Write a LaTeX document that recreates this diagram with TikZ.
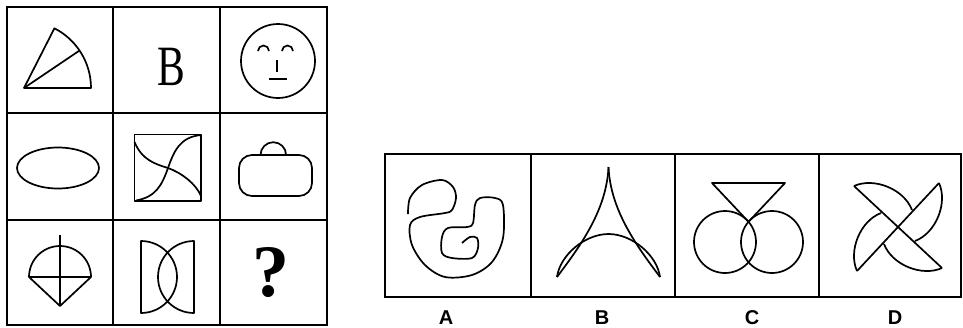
\documentclass[tikz,border=0pt]{standalone}
\usepackage{fontspec}
\usepackage{graphicx}
\newfontfamily\glyphfont{Liberation Serif}
\newfontfamily\tagfont{Liberation Sans}
\usepackage{tikz}

\begin{document}
\begin{tikzpicture}[
    x=1pt, y=-1pt,
    fig/.style={line width=1.7pt, line join=round},
    grid/.style={line width=2pt},
    panel/.style={line width=2.4pt},
    tag/.style={font=\tagfont\bfseries\fontsize{20}{20}\selectfont, inner sep=0pt}
]
\useasboundingbox (0,0) rectangle (963,327);

% question grid
\draw[grid] (7,7) rectangle (327,325);
\foreach \p in {113,220} {
  \draw[grid] (\p,7) -- (\p,325);
  \draw[grid] (7,\p) -- (327,\p);
}

% row 1
\draw[fig] (24,88) -- (91,88) arc[start angle=0, end angle=-63, radius=67] -- cycle;
\draw[fig] (24,88) -- ++(-34:67);
\node[font=\glyphfont\fontsize{57}{57}\selectfont, inner sep=0pt] (letterB) at (171.5,67) {\scalebox{0.73}[1]{B}};
\coordinate (face) at (278,61);
\draw[fig] (face) circle[radius=37];
\draw[fig] (258,51) arc[start angle=180, end angle=360, radius=5.5];
\draw[fig] (282,51) arc[start angle=180, end angle=360, radius=5.5];
\draw[fig] (277,60) -- (277,72);
\draw[fig] (269,79) -- (287,79);

% row 2
\draw[fig] (58,168) ellipse[x radius=41, y radius=20.5];
\draw[fig] (134.5,134.5) rectangle (201,201);
\draw[fig] (134.5,142) .. controls (142,160) and (155,164) .. (168,168)
  .. controls (182,173) and (196,184) .. (201,196);
\draw[fig] (136,200.5) .. controls (156,197) and (162,185) .. (168,168)
  .. controls (174,151) and (180,137) .. (201,135);
\draw[fig, rounded corners=13] (239,155) rectangle (312,196);
\draw[fig] (260.5,155) arc[start angle=180, end angle=360, radius=12.8];

% row 3
\draw[fig] (29,277) arc[start angle=180, end angle=360, radius=31] -- (60,306) -- cycle;
\draw[fig] (29,277) -- (91,277);
\draw[fig] (60,235) -- (60,306);
\draw[fig] (141,241) -- (141,313) arc[start angle=90, end angle=-90, x radius=36, y radius=36] -- cycle;
\draw[fig] (194,241) -- (194,313) arc[start angle=90, end angle=270, x radius=36, y radius=36] -- cycle;
\node[font=\glyphfont\bfseries\fontsize{74}{74}\selectfont, inner sep=0pt] (query) at (271,273) {?};

% answer panel
\draw[panel] (385,154) rectangle (961,297);
\foreach \p in {531,675,819}
  \draw[panel] (\p,154) -- (\p,297);

% option A
\draw[fig] plot[smooth, tension=0.55] coordinates {
  (408,214) (410,198) (422,185) (442,180) (453,187) (456,198) (452,210) (445,213)
  (420,217) (410,225) (412,245) (425,265) (445,277) (472,275) (492,262) (503,238)
  (503,205) (495,198) (480,198) (475,205) (473,223) (467,227) (448,228) (442,237)
  (442,253) (452,258) (472,258) (478,248) (477,238) (470,237) (462,243)};

% option B
\coordinate (apex) at (608.5,167);
\draw[fig] (apex) .. controls (606.5,210) and (581,245) .. (557,277);
\draw[fig] (apex) .. controls (610.5,210) and (636,245) .. (660,277);
\draw[fig] (557,277) .. controls (560,255) and (585,234) .. (608.5,234)
  .. controls (632,234) and (657,255) .. (660,277);

% option C
\draw[fig] (725,242) circle[radius=31];
\draw[fig] (772,242) circle[radius=31];
\draw[fig] (712,183) -- (785,183) -- (748.5,221.8) -- cycle;

% option D
\coordinate (wheel) at (898,227);
\foreach \r in {0,-90,-180,-270} {
  \begin{scope}[shift={(wheel)}, rotate=\r]
    \draw[fig] (-44,-41) -- (0,0);
    \draw[fig] (-44,-41) .. controls (-24,-50) and (6,-38) .. (14,-17);
  \end{scope}
}

% labels
\node[tag] (optA) at (446,317.5) {A};
\node[tag] (optB) at (602,317.5) {B};
\node[tag] (optC) at (752,317.5) {C};
\node[tag] (optD) at (895,317.5) {D};
\end{tikzpicture}
\end{document}
